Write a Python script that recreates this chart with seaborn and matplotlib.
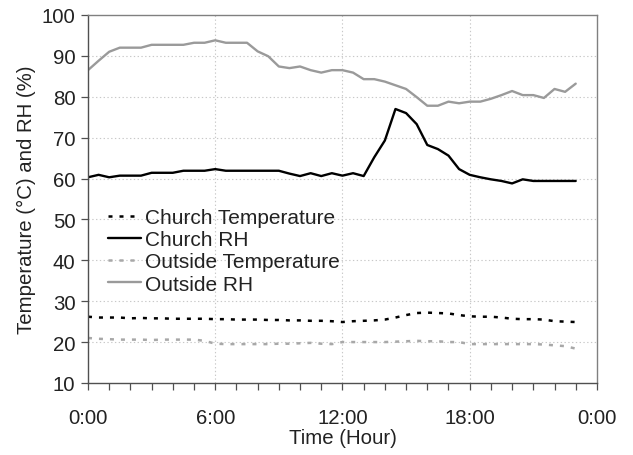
import numpy as np
import pandas as pd
import matplotlib
matplotlib.use("Agg")
import matplotlib.pyplot as plt
import seaborn as sns
from matplotlib.ticker import MultipleLocator

# Time in hours (every 30 minutes, 0:00 .. 23:00)
hours = [i * 0.5 for i in range(47)]

church_temp = [26.2, 26.0, 26.0, 26.0, 25.8, 25.9, 25.8, 25.8, 25.7, 25.7,
               25.7, 25.7, 25.6, 25.6, 25.5, 25.5, 25.5, 25.4, 25.4, 25.3,
               25.3, 25.2, 25.2, 25.1, 24.9, 25.1, 25.2, 25.3, 25.5, 26.0,
               26.6, 27.1, 27.2, 27.1, 27.0, 26.6, 26.3, 26.2, 26.2, 26.0,
               25.7, 25.6, 25.6, 25.5, 25.1, 25.0, 24.9]

church_rh = [60.3, 60.9, 60.3, 60.7, 60.7, 60.7, 61.4, 61.4, 61.4, 61.9,
             61.9, 61.9, 62.3, 61.9, 61.9, 61.9, 61.9, 61.9, 61.9, 61.2,
             60.6, 61.3, 60.6, 61.3, 60.7, 61.3, 60.6, 65.2, 69.3, 77.0,
             76.0, 73.3, 68.2, 67.2, 65.6, 62.3, 60.9, 60.3, 59.8, 59.4,
             58.8, 59.8, 59.4, 59.4, 59.4, 59.4, 59.4]

outside_temp = [21.0, 20.8, 20.7, 20.6, 20.6, 20.6, 20.5, 20.6, 20.6, 20.6,
                20.6, 20.3, 19.6, 19.5, 19.5, 19.5, 19.5, 19.5, 19.6, 19.6,
                19.7, 19.8, 19.6, 19.5, 20.0, 20.0, 20.0, 20.0, 20.0, 20.1,
                20.2, 20.3, 20.2, 20.2, 20.0, 20.0, 19.5, 19.5, 19.5, 19.5,
                19.5, 19.5, 19.5, 19.4, 19.2, 19.0, 18.4]

outside_rh = [86.5, 88.8, 91.0, 92.0, 92.0, 92.0, 92.7, 92.7, 92.7, 92.7,
              93.2, 93.2, 93.8, 93.2, 93.2, 93.2, 91.1, 89.9, 87.4, 87.0,
              87.4, 86.5, 85.9, 86.5, 86.5, 85.9, 84.3, 84.3, 83.7, 82.8,
              81.9, 79.9, 77.8, 77.8, 78.8, 78.4, 78.8, 78.8, 79.5, 80.4,
              81.4, 80.4, 80.4, 79.7, 81.9, 81.2, 83.2]

x_ticks = [0, 6, 12, 18, 24]
x_tick_labels = ["0:00", "6:00", "12:00", "18:00", "0:00"]
y_ticks = list(range(10, 101, 10))

series_names = ["Church Temperature", "Church RH", "Outside Temperature", "Outside RH"]

sns.set_theme(style="white")
plt.rcParams['font.family'] = ['Liberation Sans', 'DejaVu Sans']

fig = plt.figure(figsize=(6.33, 4.56), dpi=100)
ax = fig.add_axes([0.139, 0.158, 0.804, 0.807])

df = pd.DataFrame({"hour": hours, "ct": church_temp, "crh": church_rh,
                   "ot": outside_temp, "orh": outside_rh})

sns.lineplot(data=df, x="hour", y="ct", ax=ax, color="black", lw=1.8,
             linestyle=(0, (1.6, 2.8)), label=series_names[0])
sns.lineplot(data=df, x="hour", y="crh", ax=ax, color="black", lw=1.7,
             label=series_names[1])
sns.lineplot(data=df, x="hour", y="ot", ax=ax, color="#a8a8a8", lw=1.8,
             linestyle=(0, (1.6, 2.8)), label=series_names[2])
sns.lineplot(data=df, x="hour", y="orh", ax=ax, color="#9a9a9a", lw=1.7,
             label=series_names[3])

ax.set_xlim(0, 24)
ax.set_ylim(10, 100)
ax.set_xticks(x_ticks)
ax.set_xticklabels(x_tick_labels)
ax.xaxis.set_minor_locator(MultipleLocator(1))
ax.set_yticks(y_ticks)

for gx in x_ticks[1:-1]:
    ax.axvline(gx, color="#c8c8c8", lw=0.8, linestyle=(0, (1.2, 2.2)), zorder=0)
for gy in y_ticks[1:-1]:
    ax.axhline(gy, color="#c8c8c8", lw=0.8, linestyle=(0, (1.2, 2.2)), zorder=0)

ax.tick_params(axis="both", which="major", direction="out", length=5, width=0.9,
               color="#505050", labelsize=14.7, labelcolor="#222222", pad=4,
               bottom=True, left=True)
ax.tick_params(axis="x", which="minor", direction="out", length=5, width=0.9,
               color="#505050", bottom=True)
ax.tick_params(axis="x", pad=13)

for side in ["left", "bottom"]:
    ax.spines[side].set_color("#505050")
    ax.spines[side].set_linewidth(1.0)
for side in ["top", "right"]:
    ax.spines[side].set_color("#808080")
    ax.spines[side].set_linewidth(1.0)

ax.set_xlabel("Time (Hour)", fontsize=14.7, color="#222222", labelpad=1)
ax.set_ylabel("Temperature (°C) and RH (%)", fontsize=14.7, color="#222222", labelpad=4)

leg = ax.legend(loc="upper left", bbox_to_anchor=(0.04, 0.475), frameon=False,
                fontsize=15, handlelength=1.55, handletextpad=0.2,
                labelspacing=0.15, borderpad=0, borderaxespad=0)
for t in leg.get_texts():
    t.set_color("#222222")

fig.savefig("out.png", dpi=100)
